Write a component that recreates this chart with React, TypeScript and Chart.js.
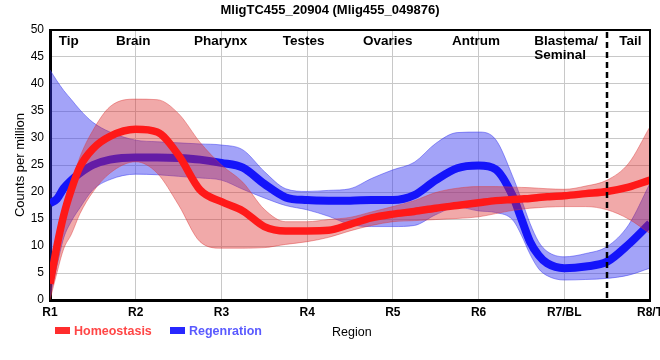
import React, { useEffect, useRef } from "react";
import { Chart, registerables } from "chart.js";

Chart.register(...registerables);

// ---- data ----
const chartTitle = "MligTC455_20904 (Mlig455_049876)";
const yAxisTitle = "Counts per million";
const xAxisTitle = "Region";
const xTickLabels = ["R1", "R2", "R3", "R4", "R5", "R6", "R7/BL", "R8/T"];
const regionNames = ["Tip", "Brain", "Pharynx", "Testes", "Ovaries", "Antrum", "Blastema/\nSeminal", "Tail"];
const regionNameAt = [0.22, 0.97, 1.99, 2.96, 3.94, 4.97, 5.65, 6.77];
const tailBoundary = 6.5;

const regionX = [0, 0.08, 0.16, 0.25, 0.35, 0.5, 0.7, 1, 1.25, 1.5, 1.75, 2, 2.25, 2.5, 2.75, 3, 3.25, 3.5, 3.75, 4, 4.25, 4.5, 4.75, 5, 5.2, 5.4, 5.5, 5.6, 5.7, 5.8, 6, 6.25, 6.5, 6.75, 7];

const homeoMean = [3, 9.9, 15.7, 20.5, 24.7, 28, 30.3, 31.6, 31.1, 26.8, 20.4, 18.2, 16.5, 13.6, 12.8, 12.8, 12.9, 14, 15.2, 15.9, 16.4, 17, 17.5, 18.0, 18.4, 18.6, 18.7, 18.8, 19.0, 19.1, 19.3, 19.7, 20.1, 20.9, 22.2];
const homeoUpper = [5, 12.3, 17.5, 21.5, 26.5, 31.4, 35.8, 37.2, 37.1, 34.5, 29.2, 25, 21.8, 16.8, 14.5, 14.5, 14.9, 15.3, 16.3, 17.3, 18.4, 19.9, 20.7, 21, 21, 20.9, 20.85, 20.8, 20.7, 20.6, 20.5, 21.1, 22.2, 25.3, 32.1];
const homeoLower = [0, 5, 9.5, 12.2, 16, 20, 23.5, 25.6, 23.5, 17.6, 10.8, 9.6, 9.6, 9.7, 10.3, 10.8, 11.6, 12.8, 13.8, 14.5, 14.7, 14.9, 15.1, 15.4, 16, 16.6, 16.8, 17, 17.1, 17.2, 17.3, 17.3, 16.7, 15, 12.3];

const regenMean = [17.9, 18.7, 20.7, 22.2, 23.5, 25, 26, 26.4, 26.4, 26.3, 26, 25.4, 24.5, 21.5, 19, 18.5, 18.4, 18.4, 18.5, 18.5, 19.4, 22.2, 24.4, 24.9, 24.2, 19.2, 15, 10.8, 8.3, 6.8, 5.9, 6.2, 7.1, 10.3, 14.2];
const regenUpper = [42.6, 40.6, 38.8, 37.1, 35.2, 32.9, 31.1, 29.6, 29.3, 29.1, 28.9, 28.7, 27.8, 23.8, 20.6, 20.1, 20.3, 20.6, 22.5, 24.1, 25.5, 29, 31, 31.1, 29.7, 22.8, 18.6, 14.2, 10.8, 9, 8, 8.6, 9.9, 13.9, 21.6];
const regenLower = [0.5, 6.2, 11.5, 14.6, 17.1, 20.4, 22.3, 23.3, 23.2, 22.9, 22.6, 22.2, 20.5, 18.9, 17.5, 16.7, 15.5, 14, 13.6, 13.6, 13.8, 15.8, 17.2, 16.5, 16.2, 14.8, 12, 8.5, 5.8, 4.5, 3.7, 3.8, 4, 4.6, 5.9];

const FONT = "Arial, 'Liberation Sans', sans-serif";
const RED = "rgb(255,25,25)";
const BLUE = "rgb(20,20,250)";

export default function App() {
  const ref = useRef<HTMLCanvasElement>(null);

  useEffect(() => {
    document.body.style.margin = "0";
    const canvas = ref.current!;
    const pts = (ys: number[]) => regionX.map((x, i) => ({ x, y: ys[i] }));
    const common = { pointRadius: 0, pointHoverRadius: 0, cubicInterpolationMode: "monotone" as const };

    const decor = {
      id: "decor",
      afterDraw(chart: any) {
        const { ctx, chartArea: a, scales } = chart;
        const xs = scales.x;
        ctx.save();
        // frame top/right
        ctx.strokeStyle = "#000";
        ctx.lineWidth = 2;
        ctx.beginPath();
        ctx.moveTo(a.left, a.top);
        ctx.lineTo(a.right, a.top);
        ctx.lineTo(a.right, a.bottom);
        ctx.stroke();
        // dashed tail boundary
        const bx = Math.round(xs.getPixelForValue(tailBoundary));
        ctx.setLineDash([6, 4]);
        ctx.lineWidth = 2.5;
        ctx.beginPath();
        ctx.moveTo(bx, a.top + 2);
        ctx.lineTo(bx, a.bottom);
        ctx.stroke();
        ctx.setLineDash([]);
        // title
        ctx.fillStyle = "#000";
        ctx.font = `bold 13px ${FONT}`;
        ctx.textAlign = "center";
        ctx.textBaseline = "alphabetic";
        ctx.fillText(chartTitle, 330, 13.5);
        // region names
        ctx.font = `bold 13.5px ${FONT}`;
        regionNames.forEach((name, i) => {
          const px = xs.getPixelForValue(regionNameAt[i]);
          const lines = name.split("\n");
          ctx.textAlign = lines.length > 1 ? "left" : "center";
          lines.forEach((ln, j) => ctx.fillText(ln, px, 44.5 + j * 14.5));
        });
        // legend
        const ds = chart.data.datasets;
        ctx.textAlign = "left";
        ctx.font = `bold 12.5px ${FONT}`;
        ctx.fillStyle = "rgb(255,45,45)";
        ctx.fillRect(55, 327, 15, 7);
        ctx.fillStyle = "rgb(255,70,70)";
        ctx.fillText(ds[0].label, 74, 335);
        ctx.fillStyle = "rgb(40,40,255)";
        ctx.fillRect(170, 327, 15, 7);
        ctx.fillStyle = "rgb(90,90,255)";
        ctx.fillText(ds[3].label, 189, 335);
        ctx.fillStyle = "#000";
        ctx.font = `12.5px ${FONT}`;
        ctx.fillText(xAxisTitle, 332, 336);
        ctx.restore();
      },
    };

    const chart = new Chart(canvas, {
      type: "line",
      data: {
        datasets: [
          { label: "Homeostasis", data: pts(homeoMean), borderColor: RED, borderWidth: 7.5, fill: false, ...common },
          { label: "Homeostasis upper", data: pts(homeoUpper), borderColor: "rgba(220,60,60,0.45)", borderWidth: 1, backgroundColor: "rgba(220,40,40,0.4)", fill: "+1", ...common },
          { label: "Homeostasis lower", data: pts(homeoLower), borderColor: "rgba(220,60,60,0.45)", borderWidth: 1, fill: false, ...common },
          { label: "Regenration", data: pts(regenMean), borderColor: BLUE, borderWidth: 8, fill: false, ...common },
          { label: "Regenration upper", data: pts(regenUpper), borderColor: "rgba(60,60,240,0.5)", borderWidth: 1, backgroundColor: "rgba(50,50,240,0.45)", fill: "+1", ...common },
          { label: "Regenration lower", data: pts(regenLower), borderColor: "rgba(60,60,240,0.5)", borderWidth: 1, fill: false, ...common },
        ],
      },
      options: {
        responsive: false,
        animation: false,
        events: [],
        layout: { padding: { top: 30, right: 10, bottom: 40, left: 0 } },
        plugins: { legend: { display: false }, tooltip: { enabled: false }, title: { display: false } },
        scales: {
          x: {
            type: "linear",
            min: 0,
            max: 7,
            ticks: {
              stepSize: 1,
              autoSkip: false,
              maxRotation: 0,
              padding: 5,
              color: "#000",
              font: { size: 12, weight: "bold", family: FONT },
              callback: (v: any) => xTickLabels[Math.round(Number(v))] ?? "",
            },
            grid: { color: "#c8c8c8", lineWidth: 1, drawTicks: false },
            border: { color: "#000", width: 3 },
            afterFit: (s: any) => {
              s.height = 20;
              s.paddingLeft = 0;
              s.paddingRight = 0;
            },
          },
          y: {
            min: 0,
            max: 50,
            ticks: { stepSize: 5, padding: 6, color: "#000", font: { size: 12, family: FONT } },
            grid: { color: "#c8c8c8", lineWidth: 1, drawTicks: false },
            border: { color: "#000", width: 3 },
            title: { display: true, text: yAxisTitle, color: "#000", font: { size: 13, family: FONT }, padding: { top: 12.5, bottom: 0 } },
            afterFit: (s: any) => {
              s.width = 50;
              s.paddingTop = 0;
              s.paddingBottom = 0;
            },
          },
        },
      },
      plugins: [decor],
    } as any);
    return () => chart.destroy();
  }, []);

  return <canvas ref={ref} width={660} height={360} style={{ display: "block" }} />;
}
